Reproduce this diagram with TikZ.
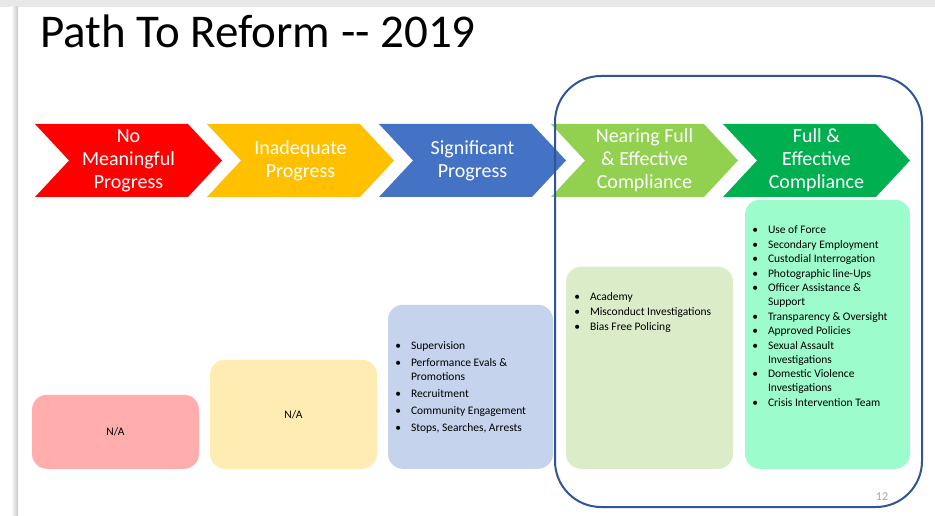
\documentclass[tikz,border=0pt]{standalone}
\usepackage{fontspec}
\setmainfont{Carlito}
\usepackage{enumitem}
\usetikzlibrary{shapes.symbols,positioning}
\definecolor{progred}{HTML}{FF0000}
\definecolor{progyellow}{HTML}{FFC000}
\definecolor{progblue}{HTML}{4472C4}
\definecolor{proglime}{HTML}{92D050}
\definecolor{proggreen}{HTML}{00B050}
\definecolor{tilered}{HTML}{FFADAD}
\definecolor{tileyellow}{HTML}{FFECB3}
\definecolor{tileblue}{HTML}{C5D3EC}
\definecolor{tilelime}{HTML}{DAEDC8}
\definecolor{tilemint}{HTML}{9CFCCB}
\definecolor{frameblue}{HTML}{2F5597}
\tikzset{
    chevron/.style={
	signal,
	signal from=west,
	signal to=east,
	signal pointer angle=94,
	minimum width=187pt,
	minimum height=73pt,
	inner sep=0pt,
	outer sep=0pt,
	text=white,
	align=center,
	font=\fontsize{20}{23}\selectfont
    },
    tile/.style={
	anchor=south,
	rectangle,
	rounded corners=15pt,
	inner sep=0pt,
	font=\fontsize{11.5}{14}\selectfont
    },
    items/.style={
	anchor=north west,
	inner sep=0pt,
	font=\fontsize{11.5}{14}\selectfont
    },
}
\newcommand\steplist[2]{%
    \parbox{150pt}{\raggedright
    \begin{itemize}[nosep,itemsep=#1,leftmargin=16pt,labelsep=10pt]
    #2
    \end{itemize}}}

\begin{document}
\begin{tikzpicture}[x=1pt,y=-1pt]
    \useasboundingbox (0,0) rectangle (935,516);
    \fill[white] (0,0) rectangle (935,516);
    \fill[black!9] (0,0) rectangle (935,7);
    \fill[left color=white, right color=black!22] (11,7) rectangle (18,516);

    \node[anchor=base west, inner sep=0pt, font=\fontsize{47}{50}\selectfont]
	(TITLE) at (40,48) {Path To Reform {-}{-} 2019};

    % stages
    \node[chevron, fill=progred]    (NOPROG)  at (128.5,160.5) {No\\Meaningful\\Progress};
    \node[chevron, fill=progyellow] (INADEQ)  at (300.5,160.5) {Inadequate\\Progress};
    \node[chevron, fill=progblue]   (SIGNIF)  at (472.5,160.5) {Significant\\Progress};
    \node[chevron, fill=proglime]   (NEARING) at (644.5,160.5) {Nearing Full\\\& Effective\\Compliance};
    \node[chevron, fill=proggreen]  (FULL)    at (816.5,160.5) {Full \&\\Effective\\Compliance};

    % areas per stage
    \node[tile, fill=tilered, minimum width=167pt, minimum height=74pt]
	(NOPROGT) at (115.5,469) {N/A};
    \node[tile, fill=tileyellow, minimum width=167pt, minimum height=109pt]
	(INADEQT) at (293.5,469) {N/A};
    \node[tile, fill=tileblue, minimum width=165pt, minimum height=164pt]
	(SIGNIFT) at (470.5,469) {};
    \node[tile, fill=tilelime, minimum width=167pt, minimum height=202pt]
	(NEARINGT) at (649.5,469) {};
    \node[tile, fill=tilemint, minimum width=165pt, minimum height=269pt]
	(FULLT) at (827.5,469) {};

    \node[items, below right=37pt and 7pt of SIGNIFT.north west] (SIGNIFL) {%
	\steplist{3pt}{%
	    \item Supervision
	    \item Performance Evals \&\\Promotions
	    \item Recruitment
	    \item Community Engagement
	    \item Stops, Searches, Arrests}};

    \node[items, below right=26pt and 8pt of NEARINGT.north west] (NEARINGL) {%
	\steplist{1pt}{%
	    \item Academy
	    \item Misconduct Investigations
	    \item Bias Free Policing}};

    \node[items, below right=26pt and 7pt of FULLT.north west] (FULLL) {%
	\steplist{0.5pt}{%
	    \item Use of Force
	    \item Secondary Employment
	    \item Custodial Interrogation
	    \item Photographic line-Ups
	    \item Officer Assistance \&\\Support
	    \item Transparency \& Oversight
	    \item Approved Policies
	    \item Sexual Assault\\Investigations
	    \item Domestic Violence\\Investigations
	    \item Crisis Intervention Team}};

    \node[draw=frameblue, line width=2pt, rounded corners=46pt,
	minimum width=367pt, minimum height=431pt] (DONE) at (738.5,291.5) {};

    \node[text=black!35, font=\fontsize{12}{14}\selectfont] (PAGE) at (882,497) {12};
\end{tikzpicture}
\end{document}
